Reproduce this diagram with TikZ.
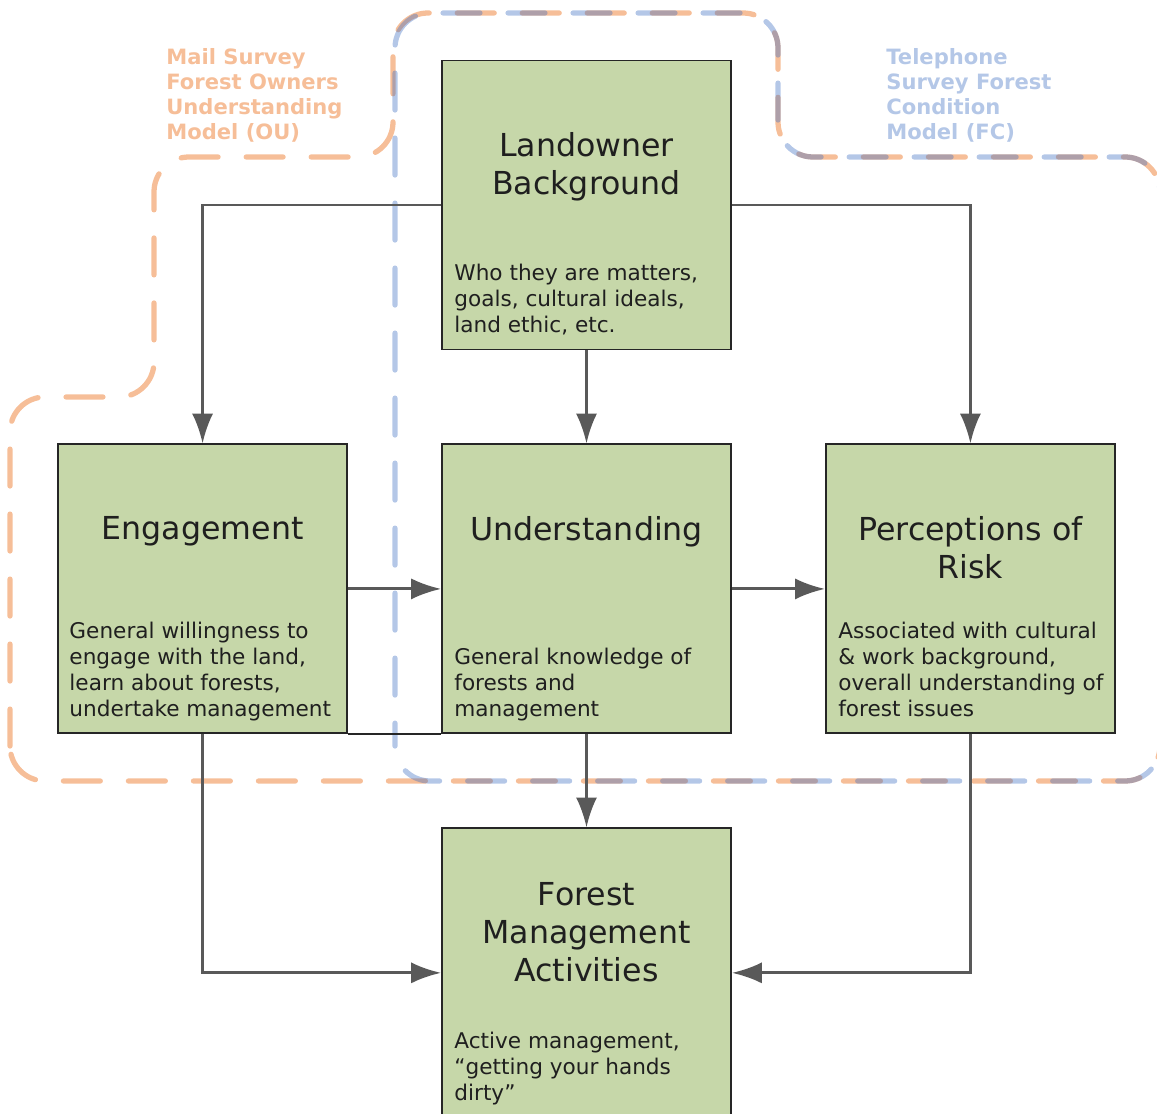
\documentclass[tikz,border=0pt]{standalone}
\usepackage{fontspec}
\setmainfont{DejaVu Sans}
\usepackage{tikz}
\usetikzlibrary{arrows.meta}

\definecolor{boxgreen}{RGB}{198,215,169}
\definecolor{flowgray}{RGB}{89,89,89}
\definecolor{ouorange}{RGB}{237,125,49}
\definecolor{fcblue}{RGB}{68,114,196}

\begin{document}
\begin{tikzpicture}[x=0.02cm,
            y=-0.02cm,
            >={Latex[length=17pt,width=12pt]},
            node distance=7.68cm,
            box/.style={draw=black!85, line width=1.1pt, fill=boxgreen,
                        minimum width=5.78cm, minimum height=5.78cm, inner sep=0pt},
            boxtitle/.style={anchor=north, align=center, inner sep=0pt, text=black!88,
                        font=\fontsize{18}{21.5}\selectfont},
            boxtext/.style={anchor=south west, align=left, inner sep=0pt, text=black!88,
                        font=\fontsize{12.3}{14.7}\selectfont},
            flow/.style={->, draw=flowgray, line width=1.7pt},
            survey/.style={line width=3pt, line cap=round, rounded corners=0.7cm,
                        dash pattern=on 21pt off 16pt},
            surveylabel/.style={anchor=north west, align=left, inner sep=0pt,
                        font=\bfseries\fontsize{12}{14.2}\selectfont}]

        \useasboundingbox (0,0) rectangle (1157,1114);

        % survey outlines
        \draw[survey, ouorange, opacity=0.5]
            (10,781) -- (10,397) -- (154,397) -- (154,157) -- (393,157) -- (393,13)
            -- (778,13) -- (778,157) -- (1160,157) -- (1160,781) -- cycle;
        \draw[survey, fcblue, opacity=0.4, dash phase=8pt]
            (395,781) -- (395,13) -- (778,13) -- (778,157)
            -- (1160,157) -- (1160,781) -- cycle;

        \node[surveylabel, text=ouorange!50] (oulabel) at (166,48)
            {Mail Survey\\Forest Owners\\Understanding\\Model (OU)};
        \node[surveylabel, text=fcblue!40] (fclabel) at (886,48)
            {Telephone\\Survey Forest\\Condition\\Model (FC)};

        % boxes
        \node[box] (land) at (586.5,205) {};
        \node[box] (und)  [below of=land] {};
        \node[box] (eng)  [left of=und]   {};
        \node[box] (risk) [right of=und]  {};
        \node[box] (fma)  [below of=und]  {};

        \node[boxtitle] (landtitle) at ([yshift=-1.46cm]land.north) {Landowner\\Background};
        \node[boxtitle] (engtitle)  at ([yshift=-1.46cm]eng.north)  {Engagement};
        \node[boxtitle] (undtitle)  at ([yshift=-1.46cm]und.north)  {Understanding};
        \node[boxtitle] (risktitle) at ([yshift=-1.46cm]risk.north) {Perceptions of\\Risk};
        \node[boxtitle] (fmatitle)  at ([yshift=-1.1cm]fma.north)   {Forest\\Management\\Activities};

        \node[boxtext] (landtext) at ([shift={(0.26cm,0.2cm)}]land.south west)
            {Who they are matters,\\goals, cultural ideals,\\land ethic, etc.\strut};
        \node[boxtext] (engtext) at ([shift={(0.24cm,0.2cm)}]eng.south west)
            {General willingness to\\engage with the land,\\learn about forests,\\undertake management\strut};
        \node[boxtext] (undtext) at ([shift={(0.26cm,0.2cm)}]und.south west)
            {General knowledge of\\forests and\\management\strut};
        \node[boxtext] (risktext) at ([shift={(0.26cm,0.2cm)}]risk.south west)
            {Associated with cultural\\\& work background,\\overall understanding of\\forest issues\strut};
        \node[boxtext] (fmatext) at ([shift={(0.26cm,0.2cm)}]fma.south west)
            {Active management,\\``getting your hands\\dirty''\strut};

        % connectors
        \draw[flow] (land.west) -| (eng.north);
        \draw[flow] (land.east) -| (risk.north);
        \draw[flow] (land.south) -- (und.north);
        \draw[flow] (eng.east) -- (und.west);
        \draw[flow] (und.east) -- (risk.west);
        \draw[flow] (und.south) -- (fma.north);
        \draw[flow] (eng.south) |- (fma.west);
        \draw[flow] (risk.south) |- (fma.east);
        \draw[black!85, line width=1.1pt] (eng.south east) -- (und.south west);

\end{tikzpicture}
\end{document}
